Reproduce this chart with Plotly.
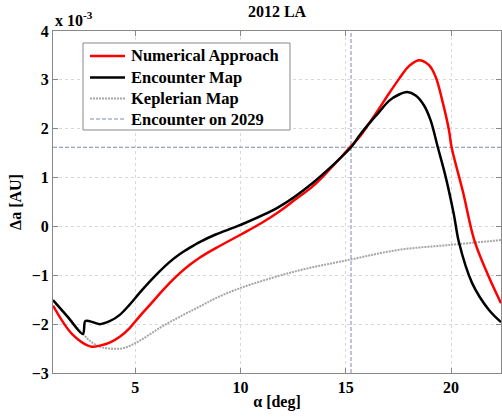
import plotly.graph_objects as go

# alpha [deg] and delta-a [x 1e-3 AU]
num_alpha = [1.1, 2.02, 2.9, 3.32, 3.79, 4.27, 4.74, 5.21, 5.69, 6.16, 6.63, 7.11, 7.58, 8.06,
             8.85, 10.0, 11.0, 11.83, 12.6, 13.4, 14.2, 15.16, 15.63, 16.11, 16.58, 17.05, 17.53,
             18.0, 18.47, 18.95, 19.27, 19.58, 19.9, 20.02, 20.58, 21.1, 21.78, 22.37]
num_da = [-1.62, -2.21, -2.46, -2.44, -2.38, -2.26, -2.08, -1.84, -1.61, -1.38, -1.16, -0.96,
          -0.79, -0.64, -0.44, -0.17, 0.07, 0.30, 0.55, 0.81, 1.15, 1.60, 1.82, 2.11, 2.41, 2.72,
          3.02, 3.28, 3.40, 3.30, 3.06, 2.58, 1.97, 1.63, 0.68, -0.28, -1.02, -1.57]

enc_alpha = [1.1, 1.8, 2.52, 2.63, 2.84, 3.32, 3.79, 4.27, 4.74, 5.21, 5.69, 6.16, 6.63, 7.11,
             7.58, 8.06, 8.85, 10.0, 11.83, 13.4, 15.25, 15.63, 16.11, 16.58, 17.05, 17.53,
             17.92, 18.32, 18.71, 19.03, 19.37, 19.74, 20.13, 20.37, 21.0, 21.78, 22.37]
enc_da = [-1.51, -1.85, -2.20, -1.94, -1.94, -2.0, -1.94, -1.81, -1.60, -1.36, -1.13, -0.92,
          -0.73, -0.57, -0.44, -0.32, -0.16, 0.03, 0.40, 0.88, 1.62, 1.85, 2.11, 2.34, 2.57,
          2.70, 2.75, 2.68, 2.48, 2.17, 1.62, 1.02, 0.25, -0.32, -1.16, -1.70, -1.96]

kep_alpha = [1.1, 1.8, 2.52, 2.87, 3.32, 3.8, 4.45, 5.21, 6.16, 7.11, 8.06, 8.92, 10.0, 12.6,
             15.2, 17.5, 19.9, 22.37]
kep_da = [-1.51, -1.85, -2.20, -2.35, -2.46, -2.50, -2.49, -2.34, -2.08, -1.85, -1.64, -1.45,
          -1.26, -0.92, -0.68, -0.48, -0.38, -0.28]

encounter_alpha = 15.25
encounter_da = 1.62

x_range = [1.1, 22.37]
y_range = [-3, 4]
x_ticks = [5, 10, 15, 20]
y_ticks = [-3, -2, -1, 0, 1, 2, 3, 4]

legend_names = ["Numerical Approach", "Encounter Map", "Keplerian Map", "Encounter on 2029"]

FONT = "Liberation Serif"
W, H = 502, 417
ML, MR, MT, MB = 53, 1, 31, 44
PW, PH = W - ML - MR, H - MT - MB

styles = {
    "Numerical Approach": dict(color="#ff0000", width=2.5),
    "Encounter Map": dict(color="#000000", width=2.5),
    "Keplerian Map": dict(color="#a6a6a6", width=2, dash="2px,1px"),
    "Encounter on 2029": dict(color="#7f89b8", width=1, dash="4px,2px"),
}

fig = go.Figure()
fig.add_trace(go.Scatter(x=kep_alpha, y=kep_da, mode="lines", name="Keplerian Map",
                         line=dict(**styles["Keplerian Map"], shape="spline", smoothing=1)))
fig.add_trace(go.Scatter(x=[x_range[0], x_range[1], None, encounter_alpha, encounter_alpha],
                         y=[encounter_da, encounter_da, None, y_range[0], y_range[1]],
                         mode="lines", name="Encounter on 2029",
                         line=styles["Encounter on 2029"]))
fig.add_trace(go.Scatter(x=num_alpha, y=num_da, mode="lines", name="Numerical Approach",
                         line=dict(**styles["Numerical Approach"], shape="spline", smoothing=1)))
fig.add_trace(go.Scatter(x=enc_alpha, y=enc_da, mode="lines", name="Encounter Map",
                         line=dict(**styles["Encounter Map"], shape="spline", smoothing=0.9)))


def px(xp):
    return (xp - ML) / PW


def py(yp):
    return (H - MB - yp) / PH


fig.update_layout(
    width=W, height=H,
    margin=dict(l=ML, r=MR, t=MT, b=MB),
    paper_bgcolor="white", plot_bgcolor="white",
    font=dict(family=FONT, size=16, color="black", weight="bold"),
    title=dict(text="2012 LA", xref="paper", x=0.5, xanchor="center", y=1 - 11 / H, yanchor="middle",
               font=dict(family=FONT, size=16, color="black", weight="bold")),
    showlegend=False,
)

fig.update_xaxes(range=x_range, tickvals=x_ticks, ticks="inside", ticklen=5, tickcolor="#888888",
                 showline=True, linecolor="#888888", linewidth=1, mirror="ticks",
                 showgrid=True, gridcolor="#d8d8d8", griddash="dot", gridwidth=1, zeroline=False,
                 title=dict(text="α [deg]", standoff=0, font=dict(family=FONT, size=16, weight="bold")),
                 tickfont=dict(family=FONT, size=16, weight="bold"))
fig.update_yaxes(range=y_range, tickvals=y_ticks, ticks="inside", ticklen=5, tickcolor="#888888",
                 showline=True, linecolor="#888888", linewidth=1, mirror="ticks",
                 showgrid=True, gridcolor="#d8d8d8", griddash="dot", gridwidth=1, zeroline=False,
                 title=dict(text="Δa [AU]", standoff=6, font=dict(family=FONT, size=16, weight="bold")),
                 tickfont=dict(family=FONT, size=16, weight="bold"))

fig.add_annotation(text="x 10<sup>-3</sup>", xref="paper", yref="paper", x=0.0, y=1.0,
                   xanchor="left", yanchor="bottom", showarrow=False, yshift=0,
                   font=dict(family=FONT, size=16, color="black", weight="bold"))

# legend box drawn by hand to match the reference layout
fig.add_shape(type="rect", xref="paper", yref="paper", x0=px(83), x1=px(290), y0=py(130), y1=py(43),
              line=dict(color="#888888", width=1), fillcolor="white", layer="above")
row_y = [56, 77.5, 98.5, 119]
for name, yy in zip(legend_names, row_y):
    fig.add_shape(type="line", xref="paper", yref="paper", x0=px(90), x1=px(125), y0=py(yy), y1=py(yy),
                  line=styles[name], layer="above")
    fig.add_annotation(text=name, xref="paper", yref="paper", x=px(129), y=py(yy),
                       xanchor="left", yanchor="middle", showarrow=False,
                       font=dict(family=FONT, size=16.5, color="black", weight="bold"))

fig.write_html("out.html")
